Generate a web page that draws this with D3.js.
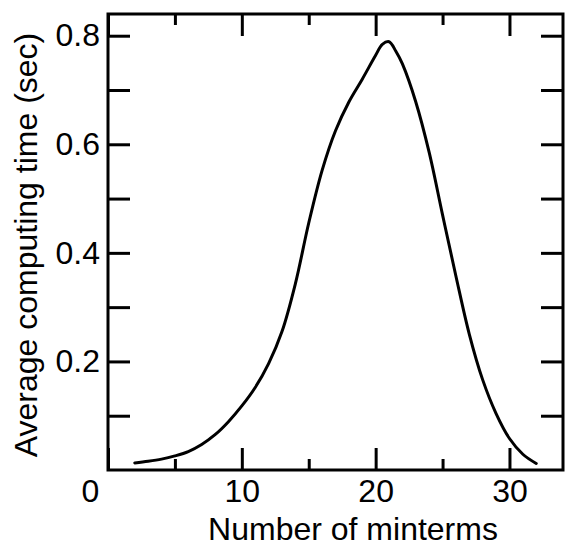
<!DOCTYPE html>
<html>
<head>
<meta charset="utf-8">
<script src="https://cdn.jsdelivr.net/npm/d3@7"></script>
<style>
  html, body { margin: 0; padding: 0; background: #fff; }
  svg text { font-family: "Liberation Sans", Arial, Helvetica, sans-serif; fill: #000; }
</style>
</head>
<body>
<svg id="chart" width="565" height="545"></svg>
<script>
// Data
const minterms = [2, 3, 4, 5, 6, 7, 8, 9, 10, 11, 12, 13, 14, 15, 16, 17, 18, 19, 20, 20.5, 21, 21.5, 22, 23, 24, 25, 26, 27, 28, 29, 30, 31, 32];
const avgTime  = [0.013, 0.016, 0.020, 0.026, 0.034, 0.047, 0.065, 0.089, 0.118, 0.152, 0.196, 0.255, 0.343, 0.455, 0.552, 0.625, 0.678, 0.720, 0.764, 0.784, 0.789, 0.772, 0.748, 0.678, 0.585, 0.470, 0.357, 0.250, 0.166, 0.104, 0.058, 0.029, 0.012];
const xMajorTicks = [0, 10, 20, 30];
const xMinorTicks = [5, 15, 25];
const yTicks = [0.1, 0.2, 0.3, 0.4, 0.5, 0.6, 0.7, 0.8];
const yTickLabels = ["0.2", "0.4", "0.6", "0.8"];
const xDomain = [0, 34];
const yDomain = [0, 0.84];
const xTitle = "Number of minterms";
const yTitle = "Average computing time (sec)";

const svg = d3.select("#chart");
const L = 108, R = 563, T = 14, B = 470;
const x = d3.scaleLinear().domain(xDomain).range([L, R]);
const y = d3.scaleLinear().domain(yDomain).range([B, T]);

const majorLen = 22, minorLen = 11, fs = 32;

// bottom axis (ticks inward, labels below)
const gxb = svg.append("g").attr("transform", `translate(0,${B})`)
  .call(d3.axisBottom(x).tickValues(xMajorTicks).tickSize(-majorLen).tickPadding(9).tickFormat(d3.format("d")));
gxb.selectAll(".tick text").filter(d => d === 0).attr("dx", -18);
svg.append("g").attr("transform", `translate(0,${B})`)
  .call(d3.axisBottom(x).tickValues(xMinorTicks).tickSize(-minorLen).tickFormat(""));
// top axis
svg.append("g").attr("transform", `translate(0,${T})`)
  .call(d3.axisTop(x).tickValues(xMajorTicks).tickSize(-majorLen).tickFormat(""));
svg.append("g").attr("transform", `translate(0,${T})`)
  .call(d3.axisTop(x).tickValues(xMinorTicks).tickSize(-minorLen).tickFormat(""));
// left axis
svg.append("g").attr("transform", `translate(${L},0)`)
  .call(d3.axisLeft(y).tickValues(yTicks).tickSize(-majorLen).tickPadding(8)
    .tickFormat(d => { const s = d3.format(".1f")(d); return yTickLabels.includes(s) ? s : ""; }));
// right axis
svg.append("g").attr("transform", `translate(${R},0)`)
  .call(d3.axisRight(y).tickValues(yTicks).tickSize(-majorLen).tickFormat(""));

svg.selectAll(".domain").remove();
svg.selectAll(".tick line").attr("stroke", "#000").attr("stroke-width", 3);
svg.selectAll(".tick text").attr("font-size", fs).attr("font-family", "Liberation Sans, Arial, sans-serif").attr("fill", "#000");

// frame
svg.append("rect").attr("x", L).attr("y", T).attr("width", R - L).attr("height", B - T)
  .attr("fill", "none").attr("stroke", "#000").attr("stroke-width", 3);

// curve
const line = d3.line().x((d, i) => x(minterms[i])).y(d => y(d)).curve(d3.curveCatmullRom.alpha(0.5));
svg.append("path").datum(avgTime).attr("d", line)
  .attr("fill", "none").attr("stroke", "#000").attr("stroke-width", 3).attr("stroke-linejoin", "round").attr("stroke-linecap", "round");

// titles
svg.append("text").attr("x", 353).attr("y", 540).attr("text-anchor", "middle").attr("font-size", fs).text(xTitle);
svg.append("text").attr("transform", `translate(37,245) rotate(-90)`).attr("text-anchor", "middle").attr("font-size", fs).text(yTitle);
</script>
</body>
</html>
